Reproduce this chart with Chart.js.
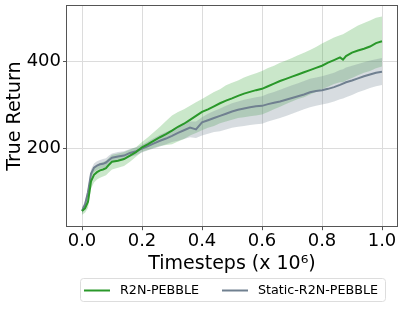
<!DOCTYPE html>
<html>
<head>
<meta charset="utf-8">
<script src="https://cdn.jsdelivr.net/npm/chart.js@4"></script>
<style>
  html, body { margin: 0; padding: 0; background: #fff; }
</style>
</head>
<body>
<canvas id="chart" width="407" height="317"></canvas>
<script>
// Timesteps (x 10^6)
const steps = [0, 0.01, 0.02, 0.03, 0.04, 0.05, 0.06, 0.07, 0.08, 0.09, 0.10,
  0.12, 0.14, 0.16, 0.18, 0.20, 0.22, 0.24, 0.26, 0.28, 0.30, 0.32, 0.34, 0.36, 0.38,
  0.40, 0.42, 0.44, 0.46, 0.48, 0.50, 0.52, 0.54, 0.56, 0.58, 0.60, 0.62, 0.64, 0.66,
  0.68, 0.70, 0.72, 0.74, 0.76, 0.78, 0.80, 0.82, 0.84, 0.86, 0.87, 0.88, 0.90, 0.92,
  0.94, 0.96, 0.98, 1.00];

// R2N-PEBBLE mean and shaded band
const r2nMean = [57, 63, 78, 125, 140, 146, 150, 152, 155, 163, 170,
  172, 176, 184, 192, 203, 210, 218, 226, 233, 241, 250, 257, 266, 275,
  284, 290, 297, 304, 310, 315, 321, 326, 330, 334, 337, 343, 349, 355,
  360, 365, 370, 375, 380, 385, 390, 397, 403, 409, 404, 412, 420, 425,
  429, 434, 442, 446];
const r2nHigh = [66, 73, 92, 140, 157, 163, 167, 169, 172, 179, 186,
  189, 192, 198, 203, 215, 226, 238, 250, 263, 276, 284, 290, 298, 306,
  314, 322, 330, 336, 345, 351, 356, 363, 368, 373, 378, 385, 390, 397,
  402, 408, 414, 420, 426, 433, 441, 448, 455, 460, 462, 466, 474, 482,
  488, 494, 500, 503];
const r2nLow = [48, 53, 64, 108, 122, 129, 133, 136, 139, 146, 152,
  156, 160, 170, 181, 193, 197, 202, 206, 208, 210, 216, 222, 230, 236,
  242, 248, 252, 258, 262, 266, 270, 272, 274, 276, 278, 284, 290, 296,
  302, 308, 314, 318, 324, 330, 336, 342, 348, 352, 352, 356, 362, 368,
  374, 378, 384, 388];

// Static-R2N-PEBBLE mean and shaded band
const staticMean = [57, 72, 100, 142, 156, 161, 164, 165, 168, 174, 179,
  182, 184, 190, 194, 200, 206, 212, 218, 223, 229, 236, 242, 248, 244,
  260, 265, 270, 275, 280, 285, 289, 292, 295, 297, 298, 302, 305, 308,
  312, 316, 320, 324, 329, 332, 334, 337, 341, 346, 349, 352, 356, 361,
  366, 370, 374, 376];
const staticHigh = [64, 80, 110, 152, 166, 171, 174, 176, 178, 184, 189,
  192, 194, 199, 203, 209, 216, 224, 232, 238, 244, 252, 258, 262, 262,
  272, 280, 286, 292, 298, 304, 308, 312, 315, 318, 320, 326, 330, 335,
  340, 345, 350, 355, 360, 363, 366, 370, 374, 380, 382, 386, 390, 394,
  398, 402, 405, 408];
const staticLow = [50, 64, 90, 132, 146, 151, 154, 155, 158, 164, 169,
  172, 174, 181, 185, 191, 196, 200, 205, 210, 215, 218, 222, 226, 224,
  230, 234, 238, 240, 244, 248, 250, 252, 254, 256, 257, 262, 266, 270,
  275, 280, 285, 290, 295, 298, 301, 304, 308, 313, 315, 318, 323, 329,
  334, 339, 343, 346];

const xTicks = [0, 0.2, 0.4, 0.6, 0.8, 1.0];
const yTicks = [200, 400];

const GREEN = '#2a982a';
const GRAY = '#708090';
const FONT = 'DejaVu Sans';

const toPoints = vals => vals.map((v, i) => ({ x: steps[i], y: v }));

// Box round the plot area, like matplotlib spines
const frame = {
  id: 'frame',
  afterDatasetsDraw(chart) {
    const { ctx, chartArea: a } = chart;
    ctx.save();
    ctx.strokeStyle = '#555';
    ctx.lineWidth = 1;
    ctx.strokeRect(Math.round(a.left) - 0.5, Math.round(a.top) - 0.5,
      Math.round(a.right - a.left) + 1, Math.round(a.bottom - a.top) + 1);
    ctx.restore();
  }
};

// Framed legend under the axis title
const boxLegend = {
  id: 'boxLegend',
  afterDraw(chart) {
    const { ctx } = chart;
    const items = chart.data.datasets.filter(d => d.inLegend);
    const top = 278, h = 23, left = 80, w = 305;
    ctx.save();
    ctx.fillStyle = 'rgba(255,255,255,0.8)';
    ctx.strokeStyle = '#dddddd';
    ctx.lineWidth = 1;
    ctx.beginPath();
    ctx.roundRect(left + 0.5, top + 0.5, w, h, 3);
    ctx.fill();
    ctx.stroke();
    ctx.font = '12.7px "' + FONT + '"';
    ctx.textBaseline = 'middle';
    const cy = top + h / 2 + 1;
    const starts = [84, 222];
    items.forEach((d, i) => {
      const x = starts[i];
      ctx.strokeStyle = d.borderColor;
      ctx.lineWidth = 2;
      ctx.beginPath();
      ctx.moveTo(x, cy);
      ctx.lineTo(x + 26, cy);
      ctx.stroke();
      ctx.fillStyle = '#000';
      ctx.fillText(d.label, x + 36, cy);
    });
    ctx.restore();
  }
};

new Chart(document.getElementById('chart'), {
  type: 'line',
  data: {
    datasets: [
      { label: 'R2N-PEBBLE', data: toPoints(r2nMean), borderColor: GREEN, borderWidth: 2, order: 0, inLegend: true },
      { label: 'Static-R2N-PEBBLE', data: toPoints(staticMean), borderColor: GRAY, borderWidth: 2, order: 1, inLegend: true },
      { label: 'r2n-low', data: toPoints(r2nLow), borderWidth: 0, borderColor: 'transparent', fill: false, order: 3 },
      { label: 'r2n-high', data: toPoints(r2nHigh), borderWidth: 0, borderColor: 'transparent', fill: '-1', backgroundColor: 'rgba(44,160,44,0.25)', order: 3 },
      { label: 'static-low', data: toPoints(staticLow), borderWidth: 0, borderColor: 'transparent', fill: false, order: 2 },
      { label: 'static-high', data: toPoints(staticHigh), borderWidth: 0, borderColor: 'transparent', fill: '-1', backgroundColor: 'rgba(112,128,144,0.28)', order: 2 }
    ]
  },
  options: {
    responsive: false,
    animation: false,
    devicePixelRatio: 1,
    layout: { padding: { top: 6, right: 10, bottom: 38, left: 0 } },
    elements: { point: { radius: 0 }, line: { tension: 0 } },
    plugins: {
      legend: { display: false },
      tooltip: { enabled: false }
    },
    scales: {
      x: {
        type: 'linear',
        min: -0.05,
        max: 1.05,
        afterBuildTicks: axis => { axis.ticks = xTicks.map(v => ({ value: v })); },
        afterFit: axis => { axis.paddingLeft = 0; axis.paddingRight = 0; },
        ticks: {
          callback: v => v.toFixed(1),
          color: '#000',
          font: { family: FONT, size: 18, lineHeight: 1.0 },
          padding: 2,
          maxRotation: 0,
          autoSkip: false
        },
        grid: { color: '#dcdcdc', tickColor: '#555', tickLength: 4 },
        border: { display: false },
        title: {
          display: true,
          text: 'Timesteps (x 10⁶)',
          color: '#000',
          font: { family: FONT, size: 19 },
          padding: { top: 0, bottom: 4 }
        }
      },
      y: {
        min: 22,
        max: 527,
        afterBuildTicks: axis => { axis.ticks = yTicks.map(v => ({ value: v })); },
        afterFit: axis => { axis.width = 67; axis.paddingTop = 0; axis.paddingBottom = 0; },
        ticks: {
          color: '#000',
          font: { family: FONT, size: 18 },
          padding: 2
        },
        grid: { color: '#dcdcdc', tickColor: '#555', tickLength: 4 },
        border: { display: false },
        title: {
          display: true,
          text: 'True Return',
          color: '#000',
          font: { family: FONT, size: 19 },
          padding: { top: 4, bottom: 0 }
        }
      }
    }
  },
  plugins: [frame, boxLegend]
});
</script>
</body>
</html>
